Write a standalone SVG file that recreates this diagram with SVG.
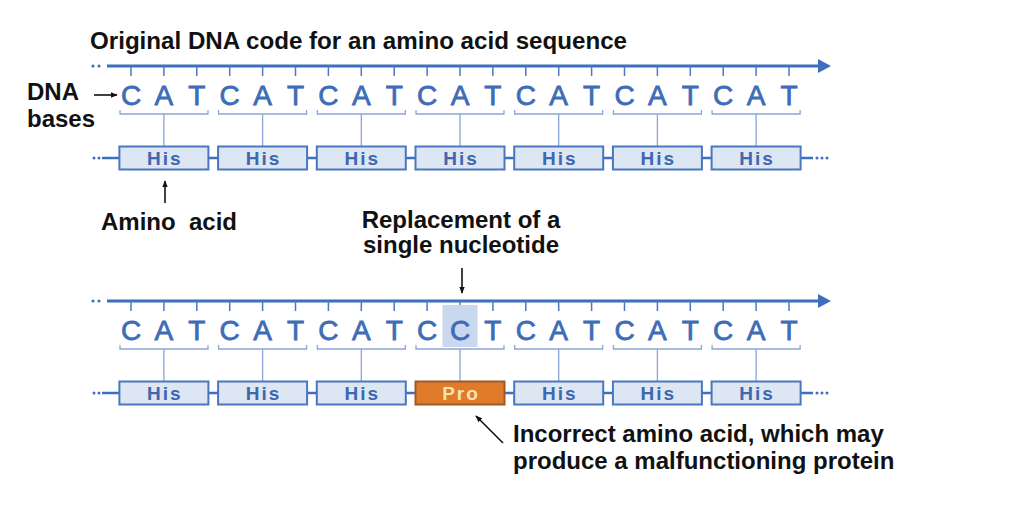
<svg xmlns="http://www.w3.org/2000/svg" width="1024" height="511" viewBox="0 0 1024 511">
<defs>
<style>
.lbl{font-family:"Liberation Sans",Arial,sans-serif;font-weight:bold;font-size:24px;fill:#111}
.base{font-family:"Liberation Sans",Arial,sans-serif;font-size:28px;fill:#3d6cb8;stroke:#3d6cb8;stroke-width:0.8;text-anchor:middle}
.aa{font-family:"Liberation Sans",Arial,sans-serif;font-weight:bold;font-size:19px;fill:#3d68b0;text-anchor:middle;letter-spacing:2px}
.box{fill:#dde6f3;stroke:#4a76c0;stroke-width:2}
.pro{fill:#e07b2a;stroke:#9a5a2a;stroke-width:2}
.axis{stroke:#3d6fc0;stroke-width:3;fill:none}
.tick{stroke:#4d79c2;stroke-width:1.5;fill:none}
.thin{stroke:#8aa6d6;stroke-width:1.3;fill:none}
.link{stroke:#3d6fc0;stroke-width:2.5;fill:none}
.dot{fill:#3d6fc0}
.blk{stroke:#111;stroke-width:1.6;fill:none}
</style>
<marker id="ah" viewBox="0 0 10 10" refX="9" refY="5" markerWidth="7" markerHeight="7" markerUnits="userSpaceOnUse" orient="auto">
<path d="M0,1 L10,5 L0,9 Z" fill="#111"/>
</marker>
<g id="strand">
<circle class="dot" cx="93" cy="66" r="1.6"/><circle class="dot" cx="99" cy="66" r="1.6"/>
<line class="axis" x1="107" y1="66" x2="821" y2="66"/>
<path d="M818,59 L831,66 L818,73 Z" class="dot"/>
<path class="tick" d="M131,66V76M163.9,66V76M196.8,66V76M229.7,66V76M262.6,66V76M295.5,66V76M328.4,66V76M361.3,66V76M394.2,66V76M427.1,66V76M460,66V76M492.9,66V76M525.8,66V76M558.7,66V76M591.6,66V76M624.5,66V76M657.4,66V76M690.3,66V76M723.2,66V76M756.1,66V76M789,66V76"/>
<path class="thin" d="M120,110V114H208V110M218.6,110V114H306.6V110M317.3,110V114H405.3V110M416,110V114H504V110M514.7,110V114H602.7V110M613.4,110V114H701.4V110M712.1,110V114H800.1V110"/>
<path class="thin" d="M163.9,114V147M262.6,114V147M361.3,114V147M460,114V147M558.7,114V147M657.4,114V147M756.1,114V147"/>
</g>
<g id="chain">
<circle class="dot" cx="94" cy="158" r="1.5"/><circle class="dot" cx="99" cy="158" r="1.5"/>
<line class="link" x1="102" y1="158" x2="119" y2="158"/>
<path class="link" d="M208.4,158H218.1M307.1,158H316.8M405.8,158H415.5M504.5,158H514.2M603.2,158H612.9M701.9,158H711.6"/>
<line class="link" x1="800.6" y1="158" x2="813" y2="158"/>
<circle class="dot" cx="817" cy="158" r="1.5"/><circle class="dot" cx="822" cy="158" r="1.5"/><circle class="dot" cx="827" cy="158" r="1.5"/>
</g>
</defs>

<g id="connectors">
<use href="#strand"/>
<use href="#chain"/>
<use href="#strand" y="235"/>
<use href="#chain" y="235"/>
<line class="blk" x1="94" y1="95" x2="117" y2="95" marker-end="url(#ah)"/>
<line class="blk" x1="165" y1="203" x2="165" y2="181" marker-end="url(#ah)"/>
<line class="blk" x1="462" y1="268" x2="462" y2="293" marker-end="url(#ah)"/>
<line class="blk" x1="503" y1="443" x2="476" y2="416" marker-end="url(#ah)"/>
</g>

<g id="title"><text class="lbl" x="90" y="49" textLength="537" lengthAdjust="spacingAndGlyphs">Original DNA code for an amino acid sequence</text></g>
<g id="label-dna"><text class="lbl" x="27" y="100">DNA</text><text class="lbl" x="27" y="127">bases</text></g>
<g id="label-amino"><text class="lbl" x="101" y="230" xml:space="preserve">Amino  acid</text></g>
<g id="label-replacement"><text class="lbl" x="461" y="228" text-anchor="middle">Replacement of a</text><text class="lbl" x="461" y="253" text-anchor="middle">single nucleotide</text></g>
<g id="label-incorrect"><text class="lbl" x="513" y="442">Incorrect amino acid, which may</text><text class="lbl" x="513" y="469">produce a malfunctioning protein</text></g>

<g id="original-sequence">
<text class="base" y="105" x="131 163.9 196.8 229.7 262.6 295.5 328.4 361.3 394.2 427.1 460 492.9 525.8 558.7 591.6 624.5 657.4 690.3 723.2 756.1 789">CATCATCATCATCATCATCAT</text>
<g id="his1"><rect class="box" x="119.4" y="146.5" width="89" height="23"/><text class="aa" x="164.9" y="165">His</text></g>
<g id="his2"><rect class="box" x="218.1" y="146.5" width="89" height="23"/><text class="aa" x="263.6" y="165">His</text></g>
<g id="his3"><rect class="box" x="316.8" y="146.5" width="89" height="23"/><text class="aa" x="362.3" y="165">His</text></g>
<g id="his4"><rect class="box" x="415.5" y="146.5" width="89" height="23"/><text class="aa" x="461" y="165">His</text></g>
<g id="his5"><rect class="box" x="514.2" y="146.5" width="89" height="23"/><text class="aa" x="559.7" y="165">His</text></g>
<g id="his6"><rect class="box" x="612.9" y="146.5" width="89" height="23"/><text class="aa" x="658.4" y="165">His</text></g>
<g id="his7"><rect class="box" x="711.6" y="146.5" width="89" height="23"/><text class="aa" x="757.1" y="165">His</text></g>
</g>

<g id="mutated-sequence">
<rect x="442.5" y="305" width="35" height="42" fill="#c9d8ee"/>
<text class="base" y="340" x="131 163.9 196.8 229.7 262.6 295.5 328.4 361.3 394.2 427.1 460 492.9 525.8 558.7 591.6 624.5 657.4 690.3 723.2 756.1 789">CATCATCATCCTCATCATCAT</text>
<g id="m-his1"><rect class="box" x="119.4" y="381.5" width="89" height="23"/><text class="aa" x="164.9" y="400">His</text></g>
<g id="m-his2"><rect class="box" x="218.1" y="381.5" width="89" height="23"/><text class="aa" x="263.6" y="400">His</text></g>
<g id="m-his3"><rect class="box" x="316.8" y="381.5" width="89" height="23"/><text class="aa" x="362.3" y="400">His</text></g>
<g id="m-pro4"><rect class="pro" x="415.5" y="381.5" width="89" height="23"/><text class="aa" x="461" y="400" style="fill:#f7e3b0">Pro</text></g>
<g id="m-his5"><rect class="box" x="514.2" y="381.5" width="89" height="23"/><text class="aa" x="559.7" y="400">His</text></g>
<g id="m-his6"><rect class="box" x="612.9" y="381.5" width="89" height="23"/><text class="aa" x="658.4" y="400">His</text></g>
<g id="m-his7"><rect class="box" x="711.6" y="381.5" width="89" height="23"/><text class="aa" x="757.1" y="400">His</text></g>
</g>
</svg>
